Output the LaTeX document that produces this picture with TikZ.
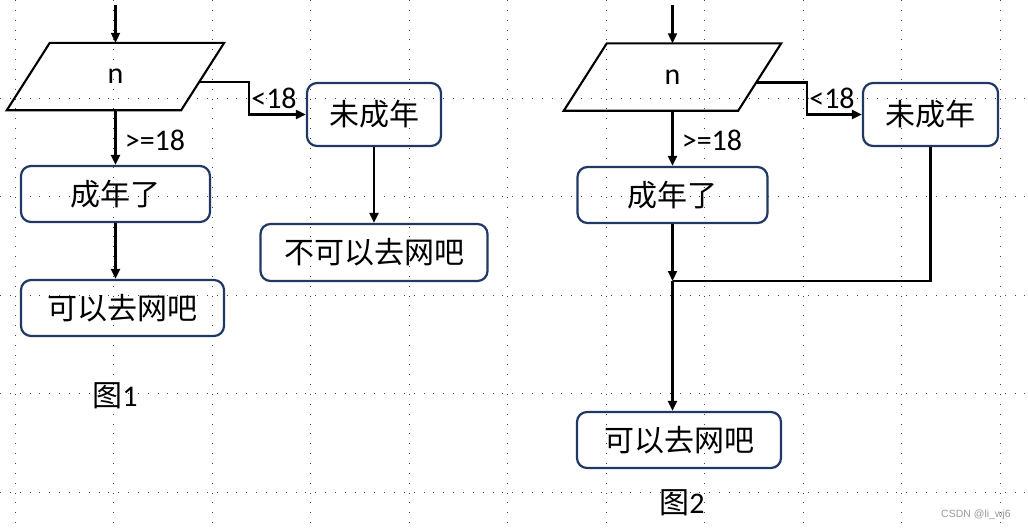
\documentclass[tikz,border=0pt]{standalone}
\usepackage{fontspec}
\setmainfont{Carlito}
\newfontfamily\cjk{Noto Sans CJK SC}
\newfontfamily\wmfont{Liberation Sans}
\usetikzlibrary{arrows.meta,calc}
\definecolor{boxblue}{RGB}{32,56,100}
\definecolor{gridgray}{RGB}{70,70,70}
\begin{document}
\begin{tikzpicture}[x=1pt,y=-1pt,
  flowbox/.style={draw=boxblue,line width=2.2pt,rounded corners=10pt,inner sep=0pt,
    font=\cjk\fontsize{30}{34}\selectfont},
  ioshape/.style={inner sep=0pt,minimum width=217pt,minimum height=67pt,
    font=\fontsize{30}{34}\selectfont},
  lbl/.style={inner sep=0pt,font=\fontsize{30}{34}\selectfont},
  figcap/.style={inner sep=0pt,font=\fontsize{30}{34}\selectfont},
  flow/.style={line width=2.1pt,-{Triangle[length=10pt,width=9pt]}},
  plain/.style={line width=2.1pt},
  gridline/.style={gridgray,line width=1pt,dash pattern=on 1pt off 8.85pt}]
\useasboundingbox (0,0) rectangle (1028,531);
\fill[white] (0,0) rectangle (1028,531);
% dotted grid
\foreach \k in {0,...,10} {\draw[gridline] (15+98.5*\k,0) -- (15+98.5*\k,531);}
\foreach \k in {0,...,4} {\draw[gridline] (0,98+98.5*\k) -- (1028,98+98.5*\k);}

% ===== Figure 1 =====
\coordinate (s1) at (115.5,5);
\node[ioshape] (p1) at (115.5,76.5) {n};
\draw[line width=2.1pt,line join=miter] ($(p1.north west)+(43,0)$) -- (p1.north east)
  -- ($(p1.south east)-(43,0)$) -- (p1.south west) -- cycle;
\coordinate (e1) at ($(p1.center)+(83.5,5.5)$);
\node[flowbox,minimum width=189pt,minimum height=56pt] (cn1) at (115.5,194) {成年了};
\node[flowbox,minimum width=203pt,minimum height=56pt] (ok1) at (122.5,308) {可以去网吧};
\node[flowbox,minimum width=134pt,minimum height=63pt] (wcn1) at (374,114.5) {未成年};
\node[flowbox,minimum width=227pt,minimum height=57pt] (no1) at (374,252.5) {不可以去网吧};
\node[lbl] (ge1) at (155,140) {>=18};
\node[lbl] (lt1) at (274,98) {<18};
\node[figcap] (f1) at (115,396) {{\cjk\fontsize{30}{34}\selectfont 图}1};
\draw[flow] (s1) -- (s1 |- p1.north);
\draw[flow] (p1.south) -- (cn1.north);
\draw[flow] (cn1.south) -- (cn1.south |- ok1.north);
\draw[flow] (e1) -- ($(e1)+(50,0)$) |- (wcn1.west);
\draw[flow] (wcn1.south) -- (wcn1.south |- no1.north);

% ===== Figure 2 =====
\coordinate (s2) at (672.5,5);
\node[ioshape] (p2) at (672.5,77) {n};
\draw[line width=2.1pt,line join=miter] ($(p2.north west)+(43,0)$) -- (p2.north east)
  -- ($(p2.south east)-(43,0)$) -- (p2.south west) -- cycle;
\coordinate (e2) at ($(p2.center)+(83.5,5.5)$);
\node[flowbox,minimum width=190pt,minimum height=56pt] (cn2) at (672.5,195) {成年了};
\node[flowbox,minimum width=204pt,minimum height=56pt] (ok2) at (679,440) {可以去网吧};
\node[flowbox,minimum width=135pt,minimum height=63pt] (wcn2) at (930.5,114.5) {未成年};
\coordinate (m2) at (672.5,281);
\node[lbl] (ge2) at (712,140) {>=18};
\node[lbl] (lt2) at (832,98) {<18};
\node[figcap] (f2) at (682,503) {{\cjk\fontsize{30}{34}\selectfont 图}2};
\draw[flow] (s2) -- (s2 |- p2.north);
\draw[flow] (p2.south) -- (cn2.north);
\draw[flow] (cn2.south) -- (m2);
\draw[plain,line join=miter] (wcn2.south) -- (wcn2.south |- m2) -- (m2);
\draw[flow] (m2) -- (m2 |- ok2.north);
\draw[flow] (e2) -- ($(e2)+(51,0)$) |- (wcn2.west);

% watermark
\node[inner sep=0pt,text=black!40,font=\wmfont\fontsize{10.5}{12}\selectfont] (wm) at (976,515) {CSDN @li\_wj6};
\end{tikzpicture}
\end{document}
